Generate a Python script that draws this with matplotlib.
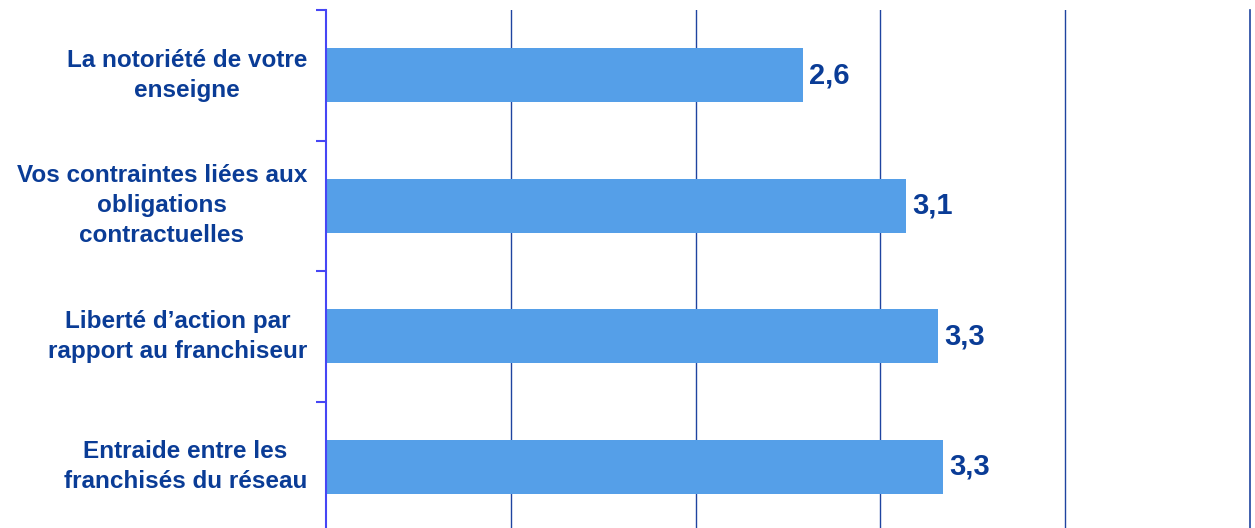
"""Horizontal bar chart: franchisee ratings (scores on a 0-5 scale)."""

import matplotlib

matplotlib.use("Agg")
import matplotlib.pyplot as plt
import numpy as np

plt.rcParams["font.family"] = ["Liberation Sans", "DejaVu Sans"]

# category labels, top to bottom
CATEGORIES = [
    "La notoriété de votre\nenseigne",
    "Vos contraintes liées aux\nobligations\ncontractuelles",
    "Liberté d’action par\nrapport au franchiseur",
    "Entraide entre les\nfranchisés du réseau",
]
# bar lengths; labels are the rounded values
VALUES = [2.58, 3.14, 3.31, 3.34]
VALUE_LABELS = ["2,6", "3,1", "3,3", "3,3"]

BAR_COLOR = "#559fe8"
TEXT_COLOR = "#0a3c96"
GRID_COLOR = "#1f44a0"
SPINE_COLOR = "#4646f5"

W, H = 1255, 528
fig = plt.figure(figsize=(W / 100, H / 100), dpi=100)
# axes runs a little past the bottom edge, as in the cropped original
ax = fig.add_axes([326 / W, -4 / H, (1250 - 326) / W, (532 - 10) / H])

y = np.arange(len(CATEGORIES))
ax.barh(y, VALUES, height=0.41, color=BAR_COLOR, zorder=2)

ax.set_xlim(0, 5)
ax.set_ylim(len(CATEGORIES) - 0.5, -0.5)

# vertical gridlines at each unit
ax.set_xticks([1, 2, 3, 4])
ax.xaxis.grid(True, color=GRID_COLOR, lw=1.0, zorder=1)
ax.tick_params(axis="x", length=0, labelbottom=False)

# left axis: ticks on category boundaries, no labels
ax.set_yticks([])
ax.set_yticks(np.arange(-0.5, len(CATEGORIES) + 0.5), minor=True)
ax.tick_params(axis="y", which="minor", length=7, width=1.5,
               color=SPINE_COLOR, direction="out", labelleft=False)

for side in ("top", "bottom"):
    ax.spines[side].set_visible(False)
ax.spines["left"].set_color(SPINE_COLOR)
ax.spines["left"].set_linewidth(1.5)
ax.spines["right"].set_color(GRID_COLOR)
ax.spines["right"].set_linewidth(1.2)

for yi, v, lab, cat in zip(y, VALUES, VALUE_LABELS, CATEGORIES):
    ax.text(v + 0.035, yi, lab, ha="left", va="center", fontsize=21,
            fontweight="bold", color=TEXT_COLOR, zorder=3)
    ax.text(-19 / 924, yi, cat, ha="right", va="center", multialignment="center",
            fontsize=17.5, fontweight="bold", color=TEXT_COLOR,
            linespacing=1.4, transform=ax.get_yaxis_transform(), clip_on=False)

fig.savefig("out.png", dpi=100)
